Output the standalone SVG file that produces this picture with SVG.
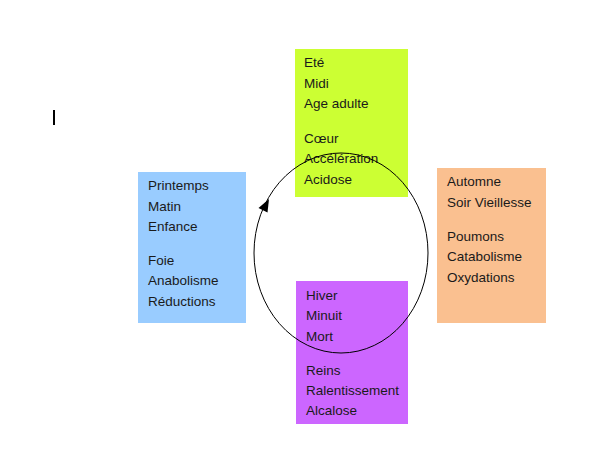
<svg xmlns="http://www.w3.org/2000/svg" width="597" height="454" viewBox="0 0 597 454">
<style>
text { font-family: "Liberation Sans", Arial, sans-serif; font-size: 13.5px; fill: #1a1a1a; }
.box { stroke: none; }
</style>
<rect width="597" height="454" fill="#ffffff"/>
<rect x="53" y="110" width="2" height="15" fill="#000000"/>
<g id="ete">
<rect class="box" x="295" y="49" width="113" height="148" fill="#ccff33"/>
<text x="304" y="67">Eté</text>
<text x="304" y="88">Midi</text>
<text x="304" y="108">Age adulte</text>
<text x="304" y="143">Cœur</text>
<text x="304" y="163">Accélération</text>
<text x="304" y="184">Acidose</text>
</g>
<g id="printemps">
<rect class="box" x="138" y="172" width="108" height="151" fill="#99ccff"/>
<text x="148" y="190">Printemps</text>
<text x="148" y="211">Matin</text>
<text x="148" y="231">Enfance</text>
<text x="148" y="265">Foie</text>
<text x="148" y="285">Anabolisme</text>
<text x="148" y="306">Réductions</text>
</g>
<g id="automne">
<rect class="box" x="437" y="168" width="109" height="155" fill="#fac090"/>
<text x="447" y="186">Automne</text>
<text x="447" y="207">Soir Vieillesse</text>
<text x="447" y="241">Poumons</text>
<text x="447" y="261">Catabolisme</text>
<text x="447" y="282">Oxydations</text>
</g>
<g id="hiver">
<rect class="box" x="296" y="281" width="112" height="143" fill="#cc66ff"/>
<text x="306" y="300">Hiver</text>
<text x="306" y="320">Minuit</text>
<text x="306" y="341">Mort</text>
<text x="306" y="375">Reins</text>
<text x="306" y="395">Ralentissement</text>
<text x="306" y="415">Alcalose</text>
</g>
<g id="connectors">
<ellipse cx="341" cy="253" rx="87" ry="100" fill="none" stroke="#000000" stroke-width="1"/>
<polygon points="269,199 258.5,208 267.5,212.5" fill="#000000"/>
</g>
</svg>
